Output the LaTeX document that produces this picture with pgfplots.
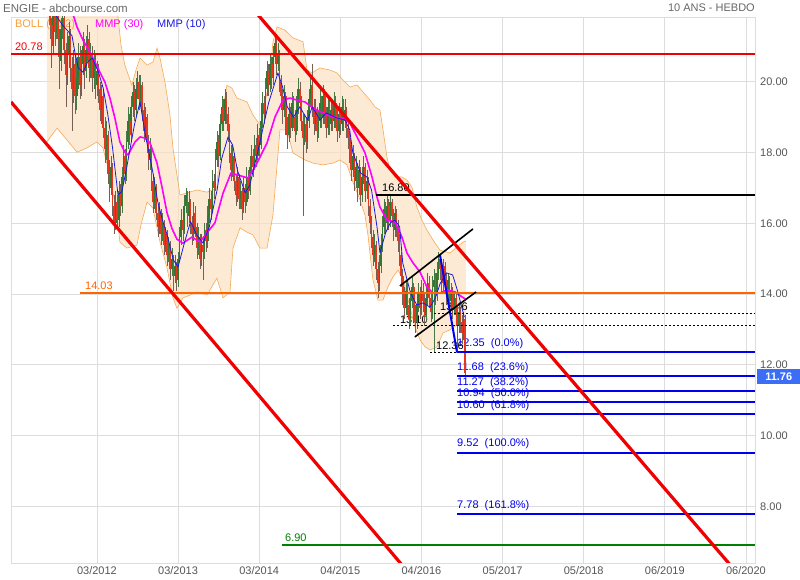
\documentclass[border=0pt]{standalone}
\usepackage{pgfplots}
\pgfplotsset{compat=1.18}
\usepackage{pgfplotstable}
\usepackage{fontspec}
\setmainfont{Liberation Sans}

\definecolor{gridgray}{RGB}{221,221,221}
\definecolor{ticktext}{RGB}{85,85,85}
\definecolor{titlegray}{RGB}{102,102,102}
\definecolor{bollfill}{RGB}{252,225,195}
\definecolor{bollline}{RGB}{247,170,85}
\definecolor{bolltext}{RGB}{245,160,60}
\definecolor{mmpmag}{RGB}{255,0,255}
\definecolor{mmpblue}{RGB}{25,25,225}
\definecolor{upbody}{RGB}{50,120,50}
\definecolor{upwick}{RGB}{70,120,70}
\definecolor{dnbody}{RGB}{230,55,30}
\definecolor{dnwick}{RGB}{120,95,85}
\definecolor{lvred}{RGB}{240,0,0}
\definecolor{lvorange}{RGB}{255,100,0}
\definecolor{lvgreen}{RGB}{0,128,0}
\definecolor{fibblue}{RGB}{0,0,240}
\definecolor{lastbox}{RGB}{60,110,245}

\newcommand\lab{\fontsize{11}{13}\selectfont}

% weekly candles: week index (0 = first x tick), open, high, low, close
\pgfplotstableread{
w o h l c
-30 21.9 22.4 21.2 21.6
-29 21.6 21.8 20.4 21.0
-28 21.0 22.3 20.8 21.9
-27 21.9 22.1 21.0 21.4
-26 21.4 22.5 21.2 22.0
-25 22.0 22.2 20.7 21.2
-24 21.2 21.5 19.8 20.6
-23 20.6 21.8 20.3 21.5
-22 21.5 22.3 21.2 21.8
-21 21.8 22.0 20.5 20.9
-20 20.9 21.1 19.3 20.2
-19 20.2 21.4 19.9 20.8
-18 20.8 21.7 20.4 21.3
-17 21.3 21.5 20.0 20.4
-16 20.4 20.7 18.6 19.8
-15 19.8 20.9 19.4 20.5
-14 20.5 20.8 19.1 19.6
-13 19.6 20.6 19.2 20.1
-12 20.1 21.1 19.8 20.7
-11 20.7 21.0 19.5 19.9
-10 19.9 20.9 19.6 20.5
-9 20.5 21.4 20.2 21.0
-8 21.0 21.2 19.8 20.3
-7 20.3 21.3 20.1 20.9
-6 20.9 21.6 20.6 21.2
-5 21.2 21.4 20.0 20.4
-4 20.4 21.1 20.1 20.8
-3 20.8 21.0 19.7 20.1
-2 20.1 20.9 19.8 20.6
-1 20.6 20.8 19.5 19.9
0 19.9 20.6 19.6 20.3
1 20.3 20.5 19.4 19.8
2 19.8 20.0 18.9 19.2
3 19.2 19.9 18.8 19.6
4 19.6 19.8 18.4 18.7
5 18.7 19.0 17.7 18.1
6 18.1 18.9 17.8 18.5
7 18.5 18.6 17.1 17.4
8 17.4 17.8 16.6 17.0
9 17.0 17.9 16.8 17.6
10 17.6 17.7 16.2 16.5
11 16.5 16.8 15.7 16.0
12 16.0 16.9 15.8 16.6
13 16.6 16.8 15.8 16.1
14 16.1 17.2 15.9 16.9
15 16.9 17.1 16.2 16.5
16 16.5 17.6 16.3 17.3
17 17.3 18.2 17.1 17.9
18 17.9 18.1 17.1 17.4
19 17.4 18.6 17.2 18.3
20 18.3 19.3 18.1 18.9
21 18.9 19.1 18.2 18.5
22 18.5 19.6 18.3 19.3
23 19.3 20.0 19.0 19.7
24 19.7 19.9 18.9 19.2
25 19.2 20.1 19.0 19.8
26 19.8 20.3 19.5 20.0
27 20.0 20.2 19.2 19.5
28 19.5 20.2 19.3 19.9
29 19.9 20.0 18.9 19.2
30 19.2 19.4 18.3 18.6
31 18.6 19.3 18.4 19.0
32 19.0 19.1 18.0 18.3
33 18.3 18.5 17.5 17.8
34 17.8 18.4 17.5 18.1
35 18.1 18.2 16.9 17.2
36 17.2 17.4 16.3 16.6
37 16.6 17.3 16.4 17.0
38 17.0 17.1 16.1 16.3
39 16.3 16.5 15.6 15.9
40 15.9 16.6 15.7 16.3
41 16.3 16.4 15.4 15.7
42 15.7 16.3 15.5 16.0
43 16.0 16.1 15.1 15.4
44 15.4 15.9 15.2 15.7
45 15.7 15.8 14.8 15.1
46 15.1 15.6 14.9 15.4
47 15.4 15.5 14.4 14.7
48 14.7 15.3 14.5 15.0
49 15.0 15.1 14.1 14.5
50 14.5 15.1 14.3 14.8
51 14.8 14.9 14.1 14.4
52 14.4 15.2 14.2 15.0
53 15.0 15.9 14.9 15.6
54 15.6 16.4 15.4 16.1
55 16.1 16.3 15.5 15.8
56 15.8 16.8 15.7 16.5
57 16.5 17.0 16.3 16.8
58 16.8 16.9 15.9 16.2
59 16.2 16.9 16.0 16.6
60 16.6 16.7 15.7 16.0
61 16.0 16.2 15.4 15.7
62 15.7 16.6 15.5 16.3
63 16.3 16.5 15.6 15.9
64 15.9 16.0 15.0 15.3
65 15.3 15.9 15.1 15.6
66 15.6 15.7 14.7 15.0
67 15.0 15.7 14.8 15.4
68 15.4 15.6 14.4 15.2
69 15.2 16.0 15.0 15.8
70 15.8 16.0 15.2 15.5
71 15.5 16.5 15.3 16.2
72 16.2 17.0 16.0 16.7
73 16.7 16.9 16.1 16.4
74 16.4 17.5 16.3 17.2
75 17.2 17.4 16.7 17.0
76 17.0 18.1 16.9 17.8
77 17.8 18.6 17.6 18.3
78 18.3 18.5 17.6 17.9
79 17.9 19.1 17.8 18.8
80 18.8 19.6 18.6 19.3
81 19.3 19.5 18.6 18.9
82 18.9 19.8 18.8 19.5
83 19.5 19.7 18.8 19.1
84 19.1 19.3 18.3 18.6
85 18.6 18.8 17.7 18.0
86 18.0 18.2 17.2 17.5
87 17.5 18.2 17.3 17.9
88 17.9 18.0 16.9 17.2
89 17.2 17.4 16.5 16.8
90 16.8 17.6 16.6 17.3
91 17.3 17.4 16.4 16.7
92 16.7 17.2 16.4 16.9
93 16.9 17.0 16.1 16.4
94 16.4 17.3 16.3 17.0
95 17.0 17.1 16.3 16.6
96 16.6 17.6 16.5 17.3
97 17.3 17.5 16.7 16.9
98 16.9 17.9 16.8 17.6
99 17.6 18.2 17.4 17.9
100 17.9 18.1 17.3 17.6
101 17.6 18.5 17.5 18.2
102 18.2 18.4 17.6 17.9
103 17.9 18.8 17.8 18.5
104 18.5 18.7 17.9 18.2
105 18.2 19.2 18.1 18.9
106 18.9 19.7 18.7 19.4
107 19.4 19.6 18.8 19.1
108 19.1 20.1 19.0 19.8
109 19.8 20.6 19.6 20.3
110 20.3 20.5 19.6 19.9
111 19.9 20.8 19.7 20.5
112 20.5 20.7 19.8 20.1
113 20.1 21.0 19.9 20.7
114 20.7 21.3 20.5 21.1
115 21.1 21.2 20.2 20.5
116 20.5 21.1 20.3 20.8
117 20.8 20.9 19.7 20.0
118 20.0 20.2 19.2 19.6
119 19.6 19.8 18.8 19.2
120 19.2 19.9 19.0 19.6
121 19.6 19.7 18.5 18.8
122 18.8 19.0 18.1 18.5
123 18.5 19.4 18.3 19.1
124 19.1 19.3 18.4 18.7
125 18.7 19.7 18.6 19.4
126 19.4 19.6 18.7 19.0
127 19.0 19.2 18.3 18.6
128 18.6 19.6 18.5 19.3
129 19.3 20.1 19.1 19.8
130 19.8 20.0 19.1 19.4
131 19.4 19.6 18.6 18.9
132 18.9 19.1 16.2 18.4
133 18.4 19.1 18.2 18.8
134 18.8 19.0 18.0 18.3
135 18.3 19.2 18.1 18.9
136 18.9 19.8 18.7 19.5
137 19.5 20.2 19.3 19.9
138 19.9 20.5 19.0 19.3
139 19.3 19.5 18.5 18.8
140 18.8 19.5 18.6 19.2
141 19.2 19.3 18.3 18.6
142 18.6 19.2 18.4 18.9
143 18.9 19.8 18.7 19.4
144 19.4 19.6 18.7 19.0
145 19.0 19.9 18.8 19.6
146 19.6 19.8 18.8 19.1
147 19.1 19.3 18.4 18.7
148 18.7 19.6 18.5 19.3
149 19.3 19.5 18.5 18.8
150 18.8 19.5 18.6 19.2
151 19.2 19.4 18.6 18.9
152 18.9 19.7 18.7 19.4
153 19.4 19.6 18.7 19.0
154 19.0 19.2 18.3 18.6
155 18.6 19.4 18.4 19.1
156 19.1 19.3 18.5 18.8
157 18.8 19.6 18.6 19.3
158 19.3 19.5 18.6 18.9
159 18.9 19.5 18.7 19.2
160 19.2 19.3 18.4 18.7
161 18.7 18.9 18.1 18.4
162 18.4 18.6 17.7 18.0
163 18.0 18.2 17.2 17.5
164 17.5 18.2 17.3 17.9
165 17.9 18.0 16.9 17.2
166 17.2 17.9 17.0 17.6
167 17.6 17.7 16.6 17.0
168 17.0 17.8 16.8 17.5
169 17.5 17.6 16.5 16.8
170 16.8 17.6 16.6 17.3
171 17.3 17.9 17.1 17.6
172 17.6 17.7 16.6 16.9
173 16.9 17.5 16.7 17.2
174 17.2 17.3 16.2 16.5
175 16.5 16.7 15.7 16.0
176 16.0 16.2 15.3 15.6
177 15.6 15.8 14.8 15.1
178 15.1 15.7 14.9 15.4
179 15.4 15.5 14.4 14.7
180 14.7 14.9 13.9 14.3
181 14.3 15.1 14.1 14.8
182 14.8 15.7 14.6 15.4
183 15.4 16.2 15.2 15.9
184 15.9 16.7 15.7 16.4
185 16.4 16.6 15.7 16.0
186 16.0 16.8 15.8 16.5
187 16.5 16.7 15.8 16.1
188 16.1 16.8 15.9 16.6
189 16.6 16.7 15.9 16.2
190 16.2 16.4 15.5 15.8
191 15.8 16.5 15.6 16.3
192 16.3 16.4 15.6 15.9
193 15.9 16.1 15.2 15.5
194 15.5 15.7 14.8 15.1
195 15.1 15.2 14.2 14.5
196 14.5 14.7 13.7 14.0
197 14.0 14.2 13.3 13.6
198 13.6 14.4 13.4 14.1
199 14.1 14.3 13.4 13.7
200 13.7 13.9 13.0 13.3
201 13.3 14.1 13.1 13.8
202 13.8 14.5 13.6 14.2
203 14.2 14.3 13.2 13.5
204 13.5 13.7 12.9 13.2
205 13.2 14.0 13.0 13.7
206 13.7 14.3 13.5 14.0
207 14.0 14.2 13.3 13.6
208 13.6 14.4 13.4 14.1
209 14.1 14.3 13.5 13.8
210 13.8 14.0 13.1 13.4
211 13.4 14.2 13.2 13.9
212 13.9 14.6 13.7 14.3
213 14.3 14.5 13.6 13.9
214 13.9 14.1 13.2 13.5
215 13.5 14.5 13.3 14.2
216 14.2 14.7 12.36 14.4
217 14.4 14.6 13.7 14.0
218 14.0 14.9 13.8 14.6
219 14.6 15.2 14.4 15.0
220 15.0 15.1 14.4 14.7
221 14.7 14.9 14.0 14.3
222 14.3 15.0 14.1 14.8
223 14.8 14.9 14.1 14.4
224 14.4 14.6 13.7 14.0
225 14.0 14.6 13.8 14.4
226 14.4 14.5 13.5 13.8
227 13.8 14.3 13.6 14.1
228 14.1 14.2 13.3 13.6
229 13.6 14.1 13.4 13.9
230 13.9 14.0 13.1 13.4
231 13.4 13.6 12.35 13.1
232 13.1 13.7 12.9 13.5
233 13.5 13.6 12.9 13.2
234 13.2 13.4 12.6 12.9
235 12.9 13.5 12.7 13.3
236 13.3 13.4 11.68 11.76
}\price

% Bollinger (20,2) upper envelope
\pgfplotstableread{
w v
-32.1 22.5
11.5 22.3
13.5 21.83
15.4 21.04
17.9 20.47
22.4 19.90
25.0 20.33
27.6 20.67
32.1 20.47
35.9 20.56
38.5 20.95
40.4 20.67
43.6 19.99
46.8 19.06
48.7 18.13
51.3 17.36
53.2 16.80
57.7 16.86
64.1 16.94
70.5 16.88
76.9 17.00
80.1 19.06
83.3 19.90
86.5 19.82
89.7 19.54
96.2 19.43
100.0 19.06
104.5 18.78
106.4 19.06
110.9 20.19
112.8 21.12
115.4 21.55
120.5 21.46
125.6 21.24
132.1 21.13
134.6 20.34
137.8 20.25
142.9 20.39
149.4 20.33
153.8 20.25
157.7 20.05
162.2 19.85
166.7 19.91
170.5 19.71
175.0 19.48
178.2 19.29
181.4 19.20
183.5 18.60
185.9 17.87
187.8 17.51
191.0 17.31
195.5 17.31
198.7 17.22
201.9 17.02
205.1 16.46
208.3 16.09
211.5 15.81
215.4 15.53
219.9 15.24
226.3 15.16
230.8 15.33
234.6 15.47
236.5 15.50
}\bollup

% Bollinger (20,2) lower envelope, newest week first
\pgfplotstableread{
w v
236.5 13.25
234.6 13.21
230.8 13.13
226.3 12.99
221.8 12.90
218.0 12.51
213.5 12.42
210.3 12.51
207.1 12.70
203.8 13.07
200.6 13.63
196.2 14.40
193.0 14.68
189.7 14.48
186.5 14.20
183.3 13.83
180.1 13.83
176.9 14.40
173.7 15.67
171.8 16.23
168.6 16.66
164.1 17.16
160.3 17.65
155.8 17.79
151.3 17.70
144.9 17.65
138.5 17.70
133.3 17.79
130.1 17.87
125.6 17.99
121.8 18.64
117.3 18.64
112.8 16.23
109.0 15.30
104.5 15.30
100.0 15.67
96.2 15.75
91.7 15.87
87.2 15.30
85.3 14.06
80.8 13.89
76.9 14.45
70.5 13.97
64.1 14.06
59.6 13.97
55.1 13.89
51.3 13.60
48.7 13.89
44.9 14.74
40.4 15.47
35.9 16.43
32.1 16.60
28.2 15.95
25.6 15.38
19.2 15.30
14.7 15.47
12.8 16.23
8.3 17.36
3.8 18.13
0.0 18.30
-6.4 18.13
-12.8 18.01
-21.8 18.49
-25.6 18.69
-32.1 18.30
}\bolllo

% the band outline as one closed polygon: upper envelope, then lower envelope backwards
\pgfplotstablevertcat{\bollband}{\bollup}
\pgfplotstablevertcat{\bollband}{\bolllo}

\begin{document}
\begin{tikzpicture}[x=1pt,y=1pt]
\useasboundingbox (0,0) rectangle (800,580);

\node[anchor=west, inner sep=0pt, text=titlegray, font=\fontsize{11.5}{13}\selectfont] at (3,572) {ENGIE - abcbourse.com};
\node[anchor=east, inner sep=0pt, text=titlegray, font=\lab] at (755,572) {10 ANS - HEBDO};

\begin{axis}[
  at={(11pt,17pt)}, anchor=south west,
  scale only axis, width=744pt, height=546pt,
  xmin=-55.1, xmax=421.8, ymin=6.40, ymax=21.83,
  xtick={0,52,...,416},
  xticklabels={03/2012,03/2013,03/2014,04/2015,04/2016,05/2017,05/2018,06/2019,06/2020},
  ytick={8,10,...,20},
  yticklabel pos=right,
  major tick length=0pt,
  grid=major,
  major grid style={draw=gridgray, line width=0.8pt},
  axis line style={draw=gridgray, line width=0.8pt},
  ticklabel style={font=\lab, text=ticktext},
  yticklabel style={anchor=west, inner sep=0pt, xshift=5pt,
    /pgf/number format/fixed, /pgf/number format/fixed zerofill,
    /pgf/number format/precision=2},
  xticklabel style={anchor=north, inner sep=0pt, yshift=-3pt},
  /pgf/number format/assume math mode=true,
  candle/.style={draw=none, mark=none},
]

% Bollinger band
\addplot[fill=bollfill, fill opacity=0.7, draw=none] table[x=w, y=v] {\bollband};
\addplot[draw=bollline, line width=0.6pt] table[x=w, y=v] {\bollup};
\addplot[draw=bollline, line width=0.6pt] table[x=w, y=v] {\bolllo};

% indicator captions
\node[anchor=west, inner sep=0pt, text=bolltext, font=\lab] at (axis cs:-52.6,21.60) {BOLL (20,2)};
\node[anchor=west, inner sep=0pt, text=mmpmag, font=\lab] at (axis cs:-1.3,21.60) {MMP (30)};
\node[anchor=west, inner sep=0pt, text=mmpblue, font=\lab] at (axis cs:38.5,21.60) {MMP (10)};

% level captions
\node[anchor=south west, inner sep=0pt, text=lvred, font=\lab] at (axis cs:-52.6,20.87) {20.78};
\node[anchor=south west, inner sep=0pt, text=lvorange, font=\lab] at (axis cs:-7.7,14.12) {14.03};
\node[anchor=south west, inner sep=0pt, text=black, font=\lab] at (axis cs:182.7,16.89) {16.80};
\node[anchor=south west, inner sep=0pt, text=lvgreen, font=\lab] at (axis cs:120.5,6.99) {6.90};
\node[anchor=south west, inner sep=0pt, text=black, font=\lab] at (axis cs:219.9,13.52) {13.46};
\node[anchor=south west, inner sep=0pt, text=black, font=\lab] at (axis cs:194.2,13.16) {13.10};
\node[anchor=south west, inner sep=0pt, text=black, font=\lab] at (axis cs:217.3,12.42) {12.36};
\node[anchor=south west, inner sep=0pt, text=fibblue, font=\lab] at (axis cs:230.8,12.44) {12.35\ \ (0.0\%)};
\node[anchor=south west, inner sep=0pt, text=fibblue, font=\lab] at (axis cs:230.8,11.77) {11.68\ \ (23.6\%)};
\node[anchor=south west, inner sep=0pt, text=fibblue, font=\lab] at (axis cs:230.8,11.36) {11.27\ \ (38.2\%)};
\node[anchor=south west, inner sep=0pt, text=fibblue, font=\lab] at (axis cs:230.8,11.03) {10.94\ \ (50.0\%)};
\node[anchor=south west, inner sep=0pt, text=fibblue, font=\lab] at (axis cs:230.8,10.69) {10.60\ \ (61.8\%)};
\node[anchor=south west, inner sep=0pt, text=fibblue, font=\lab] at (axis cs:230.8,9.61) {9.52\ \ (100.0\%)};
\node[anchor=south west, inner sep=0pt, text=fibblue, font=\lab] at (axis cs:230.8,7.87) {7.78\ \ (161.8\%)};

% candles: wicks then bodies, rising and falling weeks apart
\addplot[candle,
  error bars/.cd, y dir=both, y explicit, error mark=none,
  error bar style={draw=upwick, line width=0.5pt}]
  table[x=w, y expr={\thisrow{c}<\thisrow{o} ? nan : \thisrow{c}},
        y error plus expr={\thisrow{h}-\thisrow{c}},
        y error minus expr={\thisrow{c}-\thisrow{l}}] {\price};
\addplot[candle,
  error bars/.cd, y dir=both, y explicit, error mark=none,
  error bar style={draw=dnwick, line width=0.5pt}]
  table[x=w, y expr={\thisrow{c}<\thisrow{o} ? \thisrow{c} : nan},
        y error plus expr={\thisrow{h}-\thisrow{c}},
        y error minus expr={\thisrow{c}-\thisrow{l}}] {\price};
\addplot[candle,
  error bars/.cd, y dir=minus, y explicit, error mark=none,
  error bar style={draw=upbody, line width=1.7pt}]
  table[x=w, y expr={\thisrow{c}<\thisrow{o} ? nan : \thisrow{c}},
        y error minus expr={\thisrow{c}-\thisrow{o}}] {\price};
\addplot[candle,
  error bars/.cd, y dir=plus, y explicit, error mark=none,
  error bar style={draw=dnbody, line width=1.7pt}]
  table[x=w, y expr={\thisrow{c}<\thisrow{o} ? \thisrow{c} : nan},
        y error plus expr={\thisrow{o}-\thisrow{c}}] {\price};

% moving averages
\addplot[mmpmag, line width=1.6pt, line join=round] coordinates {
(-16,22.0) (-12.8,21.55) (-9,21.18) (-4.5,20.84) (-1.3,20.56) (1.9,20.27)
(5.1,19.99) (8.3,19.54) (11.5,18.97) (14.7,18.30) (17.9,18.01) (19.9,17.93)
(24.4,18.30) (27.6,18.44) (30.8,18.41) (34,18.27) (38.5,17.70) (41.7,17.02)
(44.9,16.30) (48.1,15.85) (51.3,15.55) (55.1,15.44) (60.9,15.61) (66,15.47)
(70.5,15.73) (75.6,16.01) (80.8,16.85) (85.9,17.42) (96.8,17.28) (101.3,17.59)
(109,18.27) (114.1,19.00) (119.2,19.48) (123.7,19.54) (128.2,19.48) (133.3,19.43)
(138.5,19.26) (144.9,19.12) (151.3,19.00) (157.7,18.97) (162.2,18.83) (166.7,18.44)
(171.8,17.99) (176.3,17.31) (179.5,16.74) (181.4,16.46) (185.9,16.09) (191,16.04)
(195.5,15.61) (198.7,15.16) (202.6,14.88) (207.1,14.62) (211.5,14.20) (215.4,14.03)
(219.9,14.03) (224.4,14.12) (229.5,14.06) (234,13.92) (236.5,13.85)};
\addplot[mmpblue, line width=0.8pt, line join=round] coordinates {
(-26,21.85) (-22,21.6) (-19,21.45) (-16,21.3) (-14,20.8) (-12,20.4) (-9,20.27)
(-6,20.56) (-3,20.67) (1,20.27) (4,19.82) (7,19.06) (10,18.13) (13.5,16.8)
(16,16.9) (19,17.56) (24,18.78) (27.6,19.43) (31,18.5) (34,17.85) (36,17.4)
(39,16.6) (42,16.09) (45,15.67) (49,14.96) (52,14.77) (56,15.44) (60,16.05)
(64,15.67) (68,15.44) (72,15.9) (77,16.94) (80,17.84) (84,18.44) (87,18.21)
(90,17.5) (95,16.86) (98,17.08) (104.5,18.3) (110,19.4) (116,20.25) (119,19.85)
(122,19.29) (126,19.0) (130,19.29) (135,18.92) (138,19.29) (143,18.92) (147,19.12)
(154,18.97) (159,18.92) (162,18.64) (164,17.99) (169,17.42) (173,17.31) (176,16.94)
(179.5,15.9) (181.4,15.16) (185,15.73) (188,16.01) (191,16.09) (194,15.9) (196,14.88)
(201,14.03) (205,13.69) (209,13.75) (213.5,13.63) (217,13.9) (220,14.3) (224,14.6)
(228,14.54) (231,14.11) (234,13.6) (235.5,13.35)};

% horizontal levels
\addplot[lvred, line width=2.2pt] coordinates {(-55.1,20.78) (421.8,20.78)};
\addplot[lvorange, line width=2.2pt] coordinates {(-10.9,14.03) (421.8,14.03)};
\addplot[black, line width=2.2pt] coordinates {(178.8,16.80) (421.8,16.80)};
\addplot[lvgreen, line width=2.2pt] coordinates {(118.6,6.90) (421.8,6.90)};
\addplot[black, line width=0.9pt, dash pattern=on 2pt off 2pt] coordinates {(216,13.46) (421.8,13.46)};
\addplot[black, line width=0.9pt, dash pattern=on 2pt off 2pt] coordinates {(189.7,13.10) (421.8,13.10)};
\addplot[black, line width=0.9pt, dash pattern=on 2pt off 2pt] coordinates {(213.5,12.36) (230.8,12.36)};

% Fibonacci projection
\addplot[fibblue, line width=2pt] coordinates {(219.9,15.10) (230.8,12.35)};
\addplot[fibblue, line width=2pt] coordinates {(230.8,12.35) (421.8,12.35)};
\addplot[fibblue, line width=2pt] coordinates {(230.8,11.68) (421.8,11.68)};
\addplot[fibblue, line width=2pt] coordinates {(230.8,11.27) (421.8,11.27)};
\addplot[fibblue, line width=2pt] coordinates {(230.8,10.94) (421.8,10.94)};
\addplot[fibblue, line width=2pt] coordinates {(230.8,10.60) (421.8,10.60)};
\addplot[fibblue, line width=2pt] coordinates {(230.8,9.52) (421.8,9.52)};
\addplot[fibblue, line width=2pt] coordinates {(230.8,7.78) (421.8,7.78)};

% rising channel
\addplot[black, line width=1.6pt] coordinates {(194.2,14.23) (241.0,15.84)};
\addplot[black, line width=1.6pt] coordinates {(203.8,12.79) (243.0,14.06)};

% falling trend channel
\addplot[lvred, line width=3.2pt] coordinates {(90,22.57) (421.8,5.53)};
\addplot[lvred, line width=3.2pt] coordinates {(-55.1,19.43) (200,6.11)};

\coordinate (lastclose) at (axis cs:421.8,11.76);
\end{axis}

% last close tag on the price scale
\node[anchor=west, fill=lastbox, text=white, inner sep=0pt, minimum width=43pt, minimum height=15pt,
  font=\lab\bfseries, xshift=2pt, yshift=-3pt] at (lastclose) {11.76};
\end{tikzpicture}
\end{document}
